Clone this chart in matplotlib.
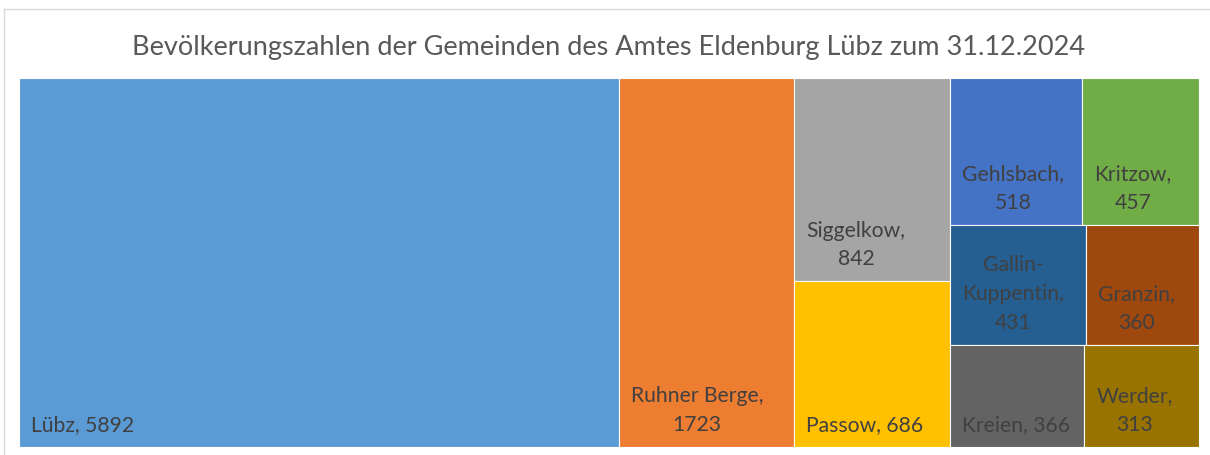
import matplotlib
matplotlib.use("Agg")
from matplotlib import pyplot as plt
from matplotlib.patches import Rectangle
from matplotlib.lines import Line2D

plt.rcParams['font.family'] = ['Lato', 'DejaVu Sans']

names = ["Lübz", "Ruhner Berge", "Siggelkow", "Passow", "Gehlsbach", "Kritzow",
         "Gallin-\nKuppentin", "Granzin", "Kreien", "Werder"]
values = [5892, 1723, 842, 686, 518, 457, 431, 360, 366, 313]
colors = ["#5B9BD5", "#ED7D31", "#A5A5A5", "#FFC000", "#4472C4", "#70AD47",
          "#255E91", "#9E480E", "#636363", "#997300"]
# how the labels wrap (one line or name / value)
wrap = [False, True, True, False, True, True, True, True, False, True]

# Excel treemap grouping: columns, then rows inside the last column
layout = [[0], [1], [2, 3], [[4, 5], [6, 7], [8, 9]]]

W, H = 1210, 455
fig = plt.figure(figsize=(W / 100, H / 100), dpi=100)
ax = fig.add_axes([0, 0, 1, 1])
ax.set_xlim(0, W)
ax.set_ylim(H, 0)
ax.axis("off")

# chart frame
fig.add_artist(Line2D([4 / W, 1], [1 - 9 / H, 1 - 9 / H], color="#D9D9D9", lw=1))
fig.add_artist(Line2D([4 / W, 4 / W], [0, 1 - 9 / H], color="#D9D9D9", lw=1))

ax.text(W / 2 + 4, 47, "Bevölkerungszahlen der Gemeinden des Amtes Eldenburg Lübz zum 31.12.2024",
        ha="center", va="center", fontsize=19.5, color="#595959")

x0, x1, y0, y1 = 19, 1199, 78, 447
total = sum(values)


def tile(i, x, y, w, h):
    ax.add_patch(Rectangle((x, y), w, h, facecolor=colors[i], edgecolor="white", lw=0.8))
    sep = ",\n" if wrap[i] else ", "
    ax.text(x + 12, y + h - 12, names[i] + sep + str(values[i]), ha="left", va="bottom",
            multialignment="center", fontsize=15.2, color="#404040", linespacing=1.55)


def flat(g):
    out = []
    for e in g:
        out += flat(e) if isinstance(e, list) else [e]
    return out


x = x0
for col in layout:
    cw = sum(values[i] for i in flat(col)) / total * (x1 - x0)
    ctot = sum(values[i] for i in flat(col))
    y = y0
    for row in col:
        members = row if isinstance(row, list) else [row]
        rtot = sum(values[i] for i in members)
        rh = rtot / ctot * (y1 - y0)
        xx = x
        for i in members:
            w = values[i] / rtot * cw
            tile(i, xx, y, w, rh)
            xx += w
        y += rh
    x += cw

fig.savefig("out.png", dpi=100)
